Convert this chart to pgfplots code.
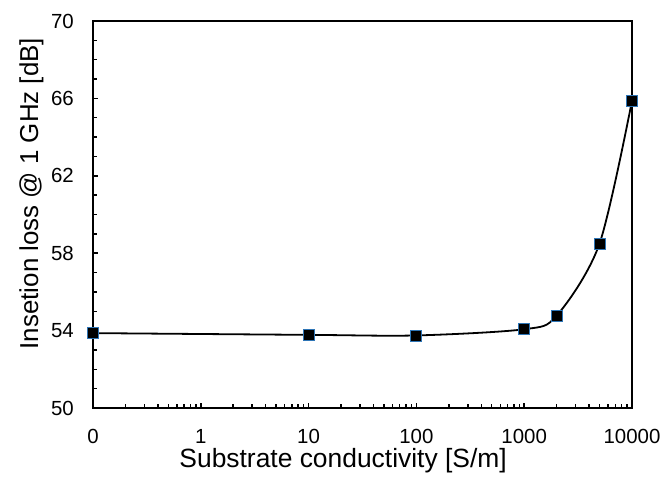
\documentclass[border=0pt]{standalone}
\usepackage{pgfplots}
\pgfplotsset{compat=1.18}
\usepackage{fontspec}
\setmainfont{Liberation Sans}
\definecolor{mkblue}{RGB}{46,117,182}
\begin{document}
\begin{tikzpicture}
\useasboundingbox (-93bp,-81bp) rectangle (571bp,408bp);
\begin{axis}[
  at={(0,0)}, anchor=south west,
  scale only axis, width=539bp, height=387bp,
  xmode=log, log basis x=10,
  xmin=0.1, xmax=10000, ymin=50, ymax=70,
  xtick={0.1,1,10,100,1000,10000},
  xticklabels={0,1,10,100,1000,10000},
  minor xtick={0.2,0.3,0.4,0.5,0.6,0.7,0.8,0.9,2,3,4,5,6,7,8,9,20,30,40,50,60,70,80,90,200,300,400,500,600,700,800,900,2000,3000,4000,5000,6000,7000,8000,9000},
  ytick={50,54,58,62,66,70},
  minor ytick={51,52,53,55,56,57,59,60,61,63,64,65,67,68,69},
  xtick pos=bottom, ytick pos=left,
  tick align=inside,
  major tick length=5bp, minor tick length=4bp,
  every tick/.style={black, line width=1.5bp},
  axis line style={line width=2.2bp},
  /pgf/number format/assume math mode=true,
  ticklabel style={font=\fontsize{20.5}{21}\selectfont},
  xticklabel style={anchor=base, inner sep=0pt, yshift=-35bp},
  yticklabel style={anchor=east, inner sep=0pt, xshift=-19bp},
  every axis x label/.style={at={(axis description cs:0.464,-0.1525)}, anchor=base, inner sep=0pt, font=\fontsize{26.5}{28}\selectfont},
  every axis y label/.style={at={(axis description cs:-0.102,0.554)}, rotate=90, anchor=base, inner sep=0pt, font=\fontsize{26}{28}\selectfont},
  xlabel={Substrate conductivity [S/m]},
  ylabel={Insetion loss @ 1 GHz [dB]},
  clip=false,
]
\addplot[black, line width=1.8bp, smooth, tension=0.5, mark=square*, mark size=5.5bp,
  mark options={fill=black, draw=mkblue, line width=0.8bp}]
  coordinates {(0.1,53.87) (10,53.78) (100,53.75) (1000,54.07) (2000,54.77) (5000,58.5) (10000,65.88)};
\end{axis}
\end{tikzpicture}
\end{document}
